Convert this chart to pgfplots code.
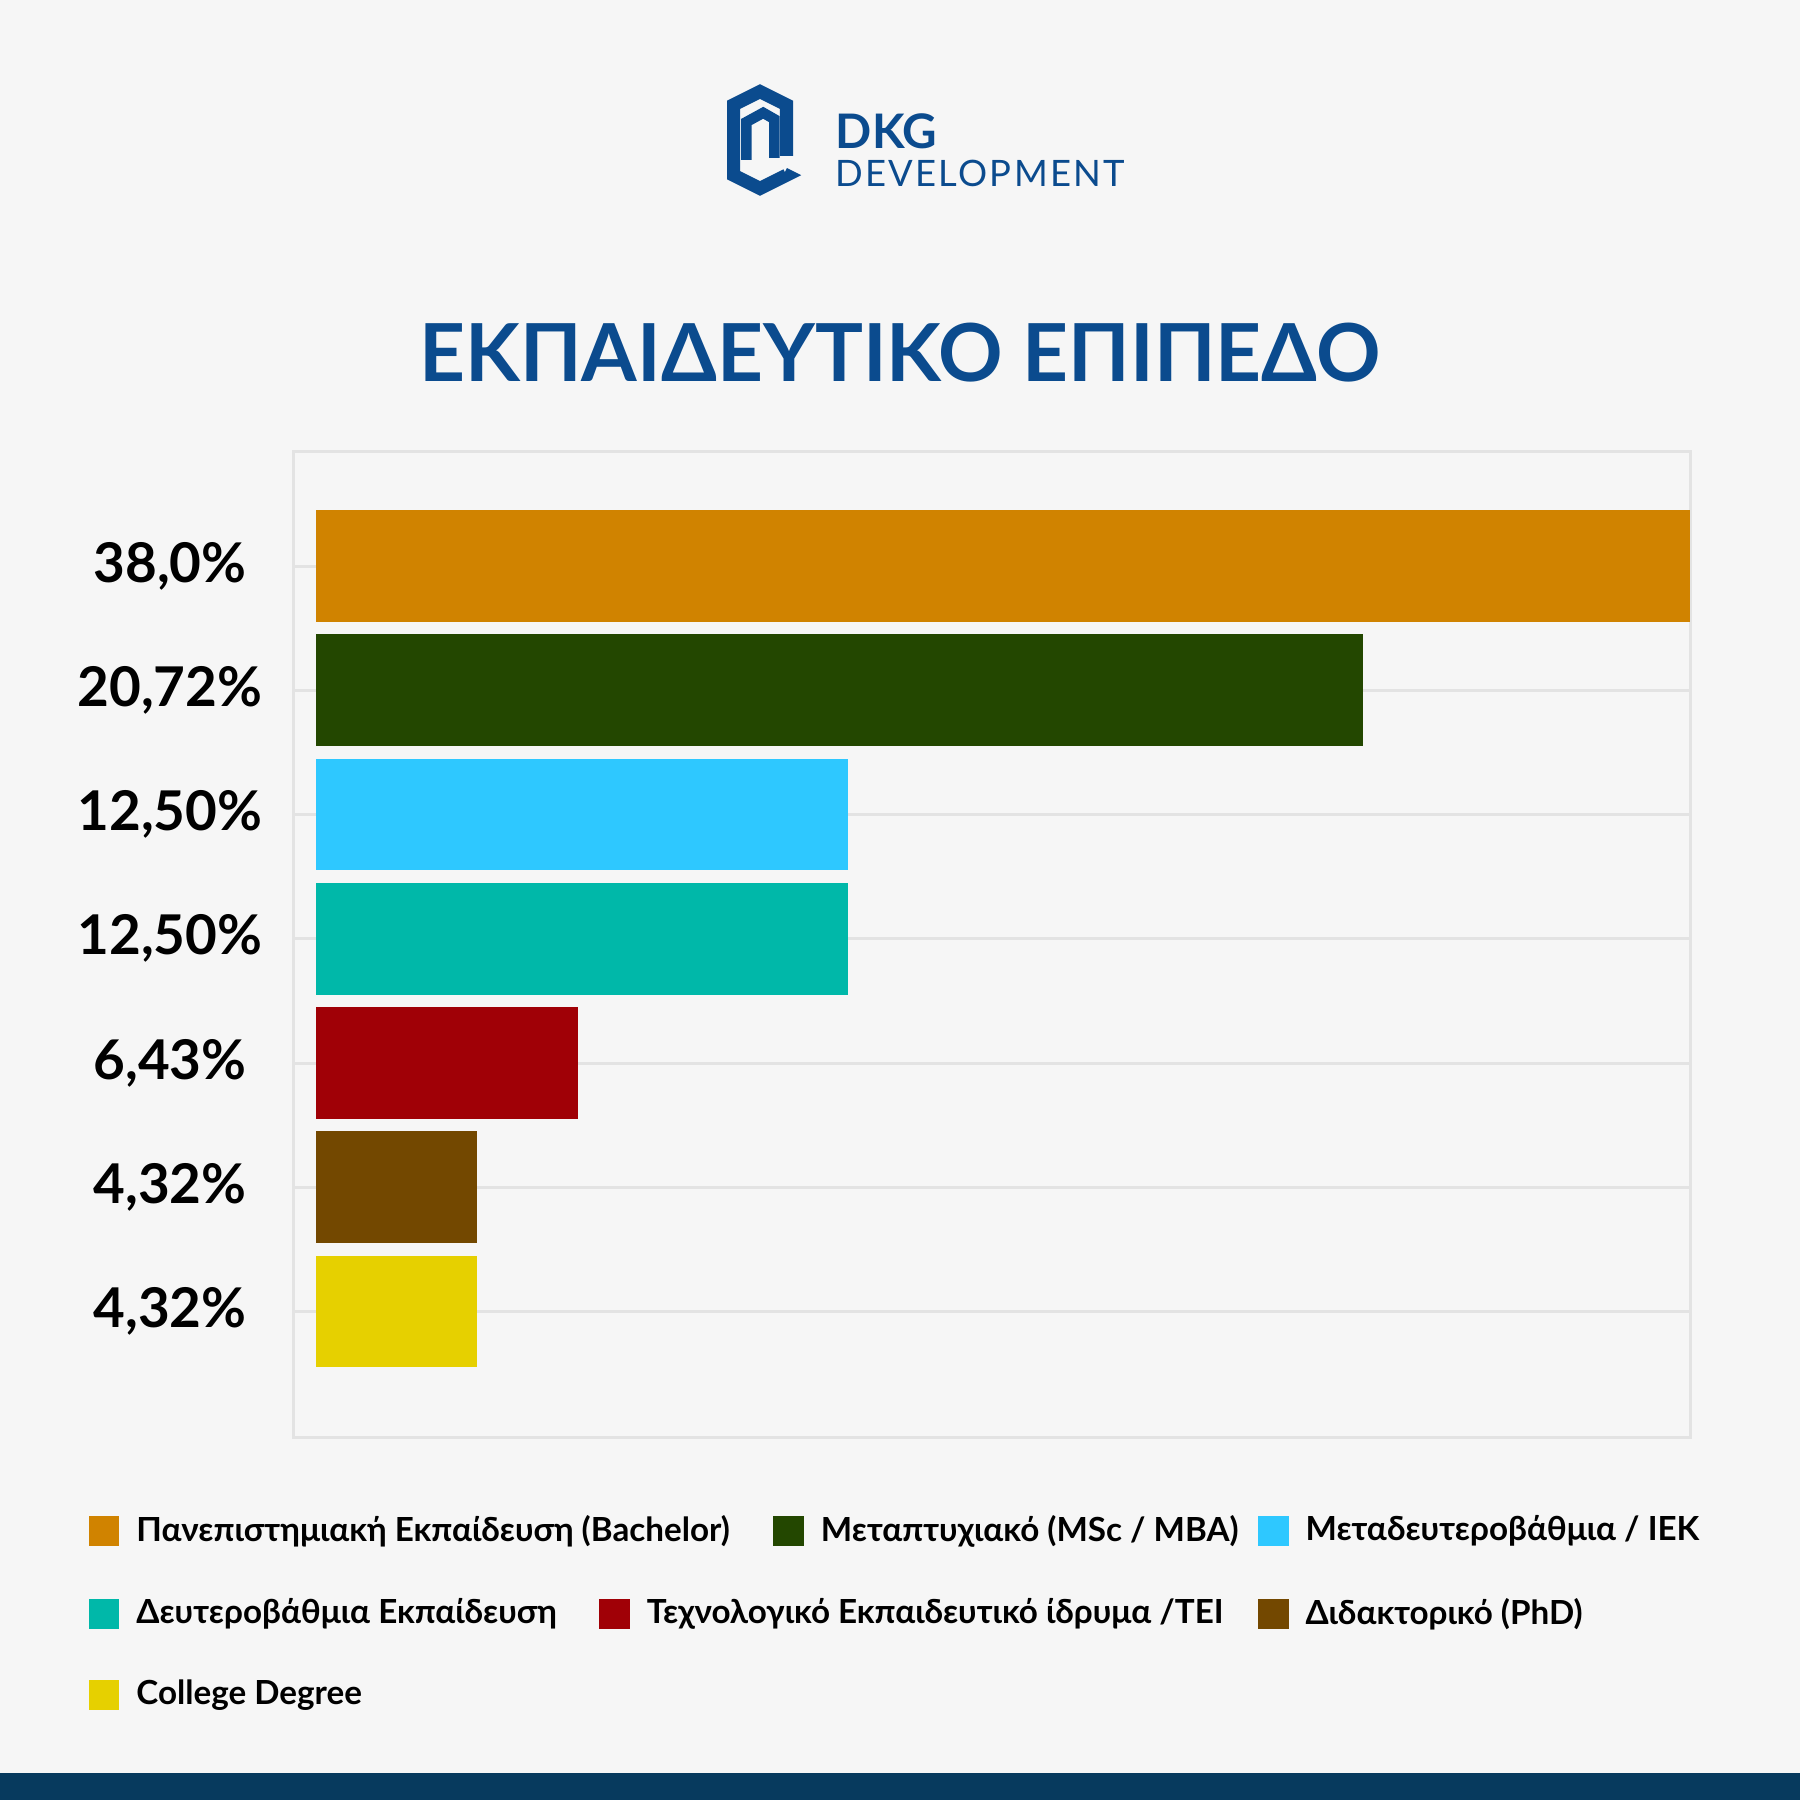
\documentclass[border=0pt]{standalone}
\usepackage{pgfplots}
\pgfplotsset{compat=1.18}
\usepackage{fontspec}
\setmainfont{Lato}
\definecolor{bgc}{HTML}{F6F6F6}
\definecolor{band}{HTML}{073A5E}
\definecolor{gridc}{HTML}{E3E3E3}
\definecolor{tblue}{HTML}{0B4B8E}
\definecolor{c1}{HTML}{D08300}
\definecolor{c2}{HTML}{234700}
\definecolor{c3}{HTML}{2EC8FF}
\definecolor{c4}{HTML}{00B8A9}
\definecolor{c5}{HTML}{A00006}
\definecolor{c6}{HTML}{734800}
\definecolor{c7}{HTML}{E6D000}
\newcommand{\legsq}[1]{\addlegendimage{legend image code/.code={\fill[#1] (0pt,-3.625pt) rectangle (7.25pt,3.625pt);}}}
\pgfplotsset{legrow/.style={at={(0,0)}, anchor=south west, scale only axis, width=450pt, height=450pt,
  xmin=0, xmax=1, ymin=0, ymax=1, hide axis, legend columns=-1, legend cell align=left,
  legend style={draw=none, fill=none, inner sep=0pt, anchor=west,
    font=\bfseries\fontsize{8.3}{10}\selectfont,
    nodes={inner sep=0pt},
    /tikz/every odd column/.append style={column sep=4.25pt}}}}
\begin{document}
\begin{tikzpicture}
\fill[bgc] (0,0) rectangle (450pt,450pt);
\fill[band] (0,0) rectangle (450pt,6.75pt);
% logo
\begin{scope}[x=1pt, y=1pt]
\draw[tblue, line width=3.3pt, line join=miter] (196,406.5) -- (196.6,406.2) -- (190,402.9) -- (183.4,406.2) -- (183.4,423.8) -- (190,427.1) -- (196.6,423.8) -- (196.6,411);
\draw[tblue, line width=2.6pt, line join=miter] (186.6,410) -- (186.6,419.5) -- (190.8,421.8) -- (193.6,420.2) -- (193.6,410.5);
\end{scope}
\node[anchor=base west, inner sep=0pt, text=tblue, font=\bfseries\fontsize{11.9}{12}\selectfont] at (208.75pt,412.75pt) {DKG};
\node[anchor=base west, inner sep=0pt, text=tblue, font=\fontsize{9.1}{10}\selectfont\addfontfeature{LetterSpace=6}] at (208.75pt,403.25pt) {DEVELOPMENT};
% title
\node[anchor=base, inner sep=0pt, text=tblue, font=\bfseries\fontsize{20}{21}\selectfont] at (225pt,354.5pt) {ΕΚΠΑΙΔΕΥΤΙΚΟ ΕΠΙΠΕΔΟ};
\begin{axis}[at={(73.25pt,90.75pt)}, anchor=south west, scale only axis,
  width=349.25pt, height=246.25pt,
  xmin=-0.636, xmax=38, ymin=-0.918, ymax=7.01, y dir=reverse,
  ytick={0,...,6},
  yticklabels={{38,0\%},{20,72\%},{12,50\%},{12,50\%},{6,43\%},{4,32\%},{4,32\%}},
  xtick=\empty, ymajorgrids, grid style={gridc, line width=0.75pt},
  axis line style={gridc, line width=0.75pt}, major tick length=0pt,
  yticklabel style={anchor=center, xshift=-30.75pt, text=black, font=\bfseries\fontsize{13.7}{16}\selectfont},
  ]
\addplot[xbar, bar width=0.9, bar shift=0pt, fill=c1, draw=none] coordinates {(38,0)};
\addplot[xbar, bar width=0.9, bar shift=0pt, fill=c2, draw=none] coordinates {(28.96,1)};
\addplot[xbar, bar width=0.9, bar shift=0pt, fill=c3, draw=none] coordinates {(14.71,2)};
\addplot[xbar, bar width=0.9, bar shift=0pt, fill=c4, draw=none] coordinates {(14.71,3)};
\addplot[xbar, bar width=0.9, bar shift=0pt, fill=c5, draw=none] coordinates {(7.25,4)};
\addplot[xbar, bar width=0.9, bar shift=0pt, fill=c6, draw=none] coordinates {(4.45,5)};
\addplot[xbar, bar width=0.9, bar shift=0pt, fill=c7, draw=none] coordinates {(4.45,6)};
\end{axis}
\begin{axis}[legrow, legend style={at={(0.04889,0.14944)}}]
\legsq{c1}\addlegendentry{\makebox[159.25pt][l]{Πανεπιστημιακή Εκπαίδευση (Bachelor)}}
\legsq{c2}\addlegendentry{\makebox[109.25pt][l]{Μεταπτυχιακό (MSc / MBA)}}
\legsq{c3}\addlegendentry{Μεταδευτεροβάθμια / IEK}
\end{axis}
\begin{axis}[legrow, legend style={at={(0.04889,0.10333)}}]
\legsq{c4}\addlegendentry{\makebox[115.75pt][l]{Δευτεροβάθμια Εκπαίδευση}}
\legsq{c5}\addlegendentry{\makebox[152.75pt][l]{Τεχνολογικό Εκπαιδευτικό ίδρυμα /TEI}}
\legsq{c6}\addlegendentry{Διδακτορικό (PhD)}
\end{axis}
\begin{axis}[legrow, legend style={at={(0.04889,0.05833)}}]
\legsq{c7}\addlegendentry{College Degree}
\end{axis}
\end{tikzpicture}
\end{document}
